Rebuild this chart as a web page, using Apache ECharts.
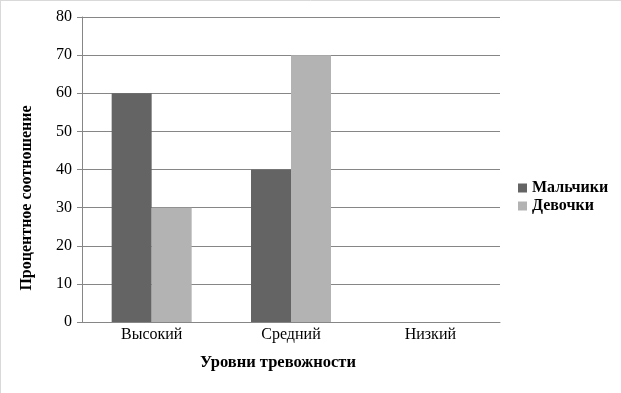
<!DOCTYPE html>
<html><head><meta charset="utf-8">
<script src="https://cdn.jsdelivr.net/npm/echarts@6/dist/echarts.min.js"></script>
<style>html,body{margin:0;padding:0;background:#fff}#c{width:621px;height:393px}</style>
</head><body><div id="c"></div>
<script>
const categories = ['Высокий', 'Средний', 'Низкий'];
const boys = [60, 40, 0];
const girls = [30, 70, 0];
const yTicks = {min: 0, max: 80, interval: 10};
const xName = 'Уровни тревожности';
const yName = 'Процентное соотношение';
const font = '"Liberation Serif", "DejaVu Serif", serif';
const chart = echarts.init(document.getElementById('c'), null, {renderer: 'canvas'});
chart.setOption({
  animation: false,
  backgroundColor: '#fff',
  textStyle: {fontFamily: font},
  grid: {left: 82, right: 121, top: 17, bottom: 71},
  legend: {
    orient: 'vertical', left: 513, top: 175, itemWidth: 9, itemHeight: 9, itemGap: 2,
    icon: 'rect',
    textStyle: {fontFamily: font, fontSize: 16, fontWeight: 'bold', color: '#000', padding: [0,0,0,0]},
    data: ['Мальчики', 'Девочки']
  },
  xAxis: {
    type: 'category', data: categories,
    axisLine: {lineStyle: {color: '#868686', width: 1}},
    axisTick: {show: false},
    axisLabel: {fontFamily: font, fontSize: 16, color: '#000', margin: 5}
  },
  yAxis: {
    type: 'value', min: yTicks.min, max: yTicks.max, interval: yTicks.interval,
    axisLine: {show: true, lineStyle: {color: '#868686'}},
    axisTick: {show: true, length: 5, lineStyle: {color: '#868686'}},
    axisLabel: {fontFamily: font, fontSize: 16, color: '#000', margin: 10},
    splitLine: {lineStyle: {color: '#868686', width: 1}}
  },
  series: [
    {name: 'Мальчики', type: 'bar', data: boys, barWidth: 40, barGap: '0%', itemStyle: {color: '#646464'}},
    {name: 'Девочки', type: 'bar', data: girls, barWidth: 40, barGap: '0%', itemStyle: {color: '#b3b3b3'}}
  ],
  graphic: [
    {type: 'line', shape: {x1: 0.5, y1: 0, x2: 0.5, y2: 393}, style: {stroke: '#d9d9d9', lineWidth: 1}},
    {type: 'line', shape: {x1: 0, y1: 0.5, x2: 621, y2: 0.5}, style: {stroke: '#d9d9d9', lineWidth: 1}},
    {type: 'text', x: 27, y: 198, rotation: Math.PI / 2,
     style: {text: yName, fontFamily: font, fontSize: 16, fontWeight: 'bold', fill: '#000', align: 'center', verticalAlign: 'middle'}},
    {type: 'text', x: 278, y: 363,
     style: {text: xName, fontFamily: font, fontSize: 16.5, fontWeight: 'bold', fill: '#000', align: 'center', verticalAlign: 'middle'}}
  ]
});
</script></body></html>
